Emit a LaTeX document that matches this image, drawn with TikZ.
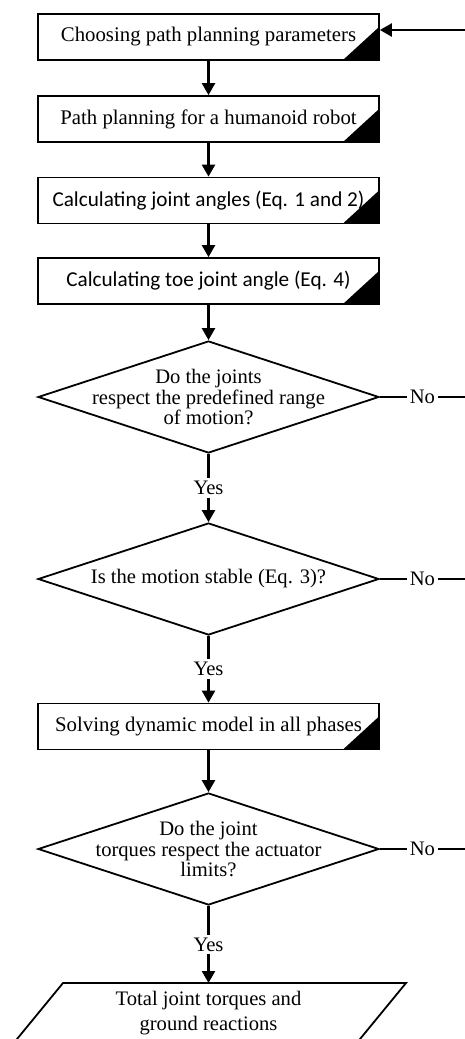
\documentclass[tikz,border=0pt]{standalone}
\usepackage{fontspec}
\setmainfont{Liberation Serif}
\newfontfamily\calib{Carlito}
\usetikzlibrary{shapes.geometric,arrows.meta}
\tikzset{
    process/.style={draw, line width=0.9pt, minimum width=170.5pt, minimum height=23pt, inner sep=0pt,
        font=\fontsize{10.4}{12}\selectfont,
        path picture={\fill (path picture bounding box.south east) -- ++(-18pt,0) -- ++(18pt,16.5pt) -- cycle;}},
    calc/.style={font=\calib\fontsize{10.6}{12}\selectfont},
    decision/.style={draw, diamond, line width=0.9pt, minimum width=170.5pt, minimum height=56pt, inner sep=0pt},
    dtext/.style={align=center, inner sep=0pt, font=\fontsize{10.3}{10.4}\selectfont},
    arr/.style={line width=1.2pt, -{Triangle[length=6pt,width=6.5pt]}},
    lbl/.style={fill=white, inner sep=1.5pt, font=\fontsize{10.3}{12}\selectfont},
}
\begin{document}
\begin{tikzpicture}[x=0.5pt,y=0.5pt]
    \useasboundingbox (0,0) rectangle (465,-1039);

    \node[process] (choose) at (208.5,-37) {Choosing path planning parameters};
    \node[process] (plan) at (208.5,-119) {Path planning for a humanoid robot};
    \node[process, calc] (joints) at (208.5,-200.5) {Calculating joint angles (Eq. 1 and 2)};
    \node[process, calc] (toe) at (208.5,-281) {Calculating toe joint angle (Eq. 4)};
    \node[decision, label={[dtext]center:Do the joints\\respect the predefined range\\of motion?}] (range) at (208.5,-397) {};
    \node[decision, label={[dtext]center:Is the motion stable (Eq. 3)?}] (stable) at (208.5,-579) {};
    \node[process] (dyn) at (208.5,-726.5) {Solving dynamic model in all phases};
    \node[decision, label={[dtext]center:Do the joint\\torques respect the actuator\\limits?}] (limits) at (208.5,-849) {};

    % output, cut off by the page
    \coordinate (outtop) at (208.5,-983);
    \draw[line width=0.9pt] (63,-983) -- (406,-983) -- (351,-1050) -- (8,-1050) -- cycle;
    \node[dtext, font=\fontsize{10.3}{12.5}\selectfont] (torques) at (208.5,-1013) {Total joint torques and\\ground reactions};

    \draw[arr] (choose) -- (plan);
    \draw[arr] (plan) -- (joints);
    \draw[arr] (joints) -- (toe);
    \draw[arr] (toe) -- (range);
    \draw[arr] (range) -- node[lbl]{Yes} (stable);
    \draw[arr] (stable) -- node[lbl]{Yes} (dyn);
    \draw[arr] (dyn) -- (limits);
    \draw[arr] (limits) -- node[lbl]{Yes} (outtop);

    % the No branches run off the right edge
    \coordinate (no1) at (465,-397);
    \coordinate (no2) at (465,-579);
    \coordinate (no3) at (465,-849);
    \coordinate (back) at (465,-30);
    \draw[line width=0.9pt] (range.east) -- node[lbl]{No} (no1);
    \draw[line width=0.9pt] (stable.east) -- node[lbl]{No} (no2);
    \draw[line width=0.9pt] (limits.east) -- node[lbl]{No} (no3);
    \draw[arr] (back) -- (back -| choose.east);
\end{tikzpicture}
\end{document}
